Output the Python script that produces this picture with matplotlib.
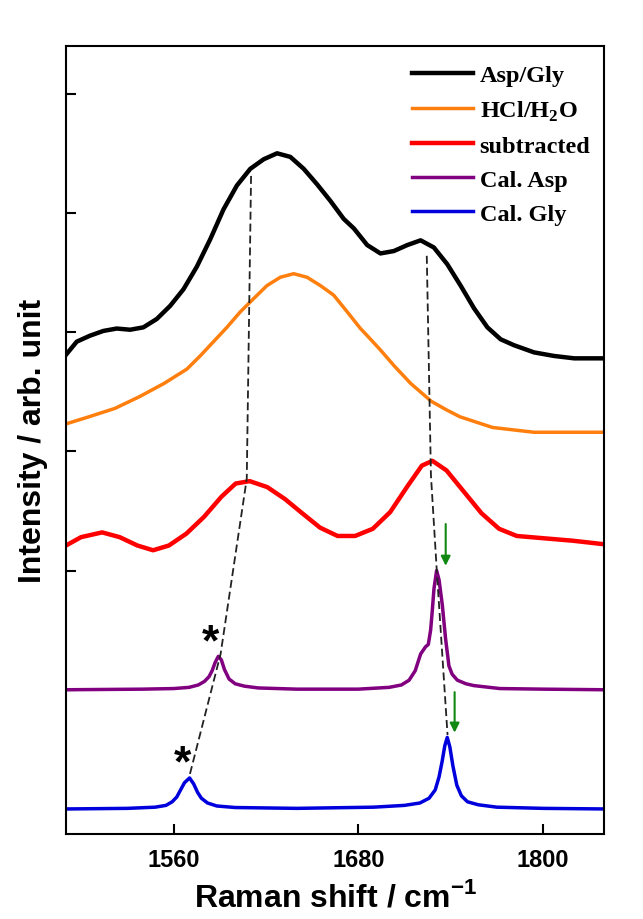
import matplotlib
matplotlib.use('Agg')
import matplotlib.pyplot as plt

# ─── DATA ────────────────────────────────────────────────────────────────────────
asp_gly_x = [1490, 1497, 1505.6, 1514.3, 1523, 1531.7, 1540.3, 1549, 1557.7, 1566.4,
             1575.1, 1583.8, 1592.4, 1601.1, 1609.8, 1618.5, 1627.2, 1635.8, 1644.5,
             1653.2, 1661.9, 1670.5, 1677.1, 1685.8, 1694.4, 1703.1, 1711.8, 1720.5,
             1729.1, 1737.8, 1746.5, 1755.2, 1763.9, 1772.5, 1781.2, 1794.2, 1807.2,
             1820.3, 1840]
asp_gly_y = [3.81, 3.92, 3.97, 4.01, 4.03, 4.02, 4.04, 4.11, 4.22, 4.36,
             4.55, 4.78, 5.03, 5.23, 5.37, 5.45, 5.50, 5.47, 5.37,
             5.24, 5.10, 4.95, 4.87, 4.73, 4.66, 4.68, 4.73, 4.77,
             4.71, 4.57, 4.39, 4.20, 4.04, 3.94, 3.89, 3.83, 3.80,
             3.78, 3.78]

hcl_x = [1490, 1505, 1521.8, 1538, 1553.8, 1568.6, 1577.2, 1585.9, 1594.6, 1603.3,
         1611.9, 1620.6, 1629.3, 1638, 1646.7, 1655.4, 1664, 1672.8, 1681.4, 1685.8,
         1694.4, 1703.1, 1714, 1727.4, 1737, 1746, 1767.3, 1794.1, 1840]
hcl_y = [3.23, 3.29, 3.36, 3.46, 3.57, 3.69, 3.80, 3.92, 4.04, 4.17,
         4.28, 4.39, 4.46, 4.49, 4.46, 4.39, 4.31, 4.17, 4.03, 3.97,
         3.85, 3.72, 3.57, 3.42, 3.35, 3.29, 3.20, 3.16, 3.16]

sub_x = [1490, 1499.8, 1513.5, 1524.9, 1536.4, 1546.6, 1556.9, 1568.3, 1579.7, 1591.1,
         1600.3, 1609.4, 1620.8, 1632.3, 1643.6, 1655.1, 1666.5, 1677.9, 1689.4, 1700.7,
         1712.1, 1721.3, 1728.2, 1737.3, 1748.7, 1760.1, 1771.5, 1783, 1801.2, 1819.5,
         1840]
sub_y = [2.21, 2.28, 2.32, 2.28, 2.21, 2.17, 2.21, 2.31, 2.45, 2.62,
         2.73, 2.75, 2.70, 2.60, 2.48, 2.36, 2.29, 2.29, 2.35, 2.49,
         2.71, 2.88, 2.92, 2.84, 2.66, 2.48, 2.35, 2.29, 2.27, 2.25,
         2.22]

asp_x = [1490, 1540, 1560, 1570, 1576, 1580, 1583, 1585, 1587, 1589, 1591, 1593, 1596,
         1600, 1606, 1615, 1640, 1680, 1700, 1708, 1713, 1717, 1720.5, 1723.7, 1725.5,
         1727, 1728, 1729.2, 1730.9, 1732.5, 1734.6, 1736.7, 1738.9, 1741, 1744.4, 1750,
         1755, 1772, 1800, 1840]
asp_y = [1.00, 1.005, 1.01, 1.02, 1.04, 1.07, 1.11, 1.16, 1.23, 1.28, 1.25, 1.17, 1.09,
         1.05, 1.03, 1.015, 1.005, 1.005, 1.02, 1.04, 1.08, 1.16, 1.30, 1.36, 1.38,
         1.50, 1.65, 1.85, 2.00, 1.92, 1.71, 1.43, 1.20, 1.13, 1.08, 1.05,
         1.035, 1.01, 1.005, 1.00]

gly_x = [1490, 1530, 1548, 1555, 1559, 1562, 1564.5, 1567, 1570.3, 1573, 1575.5, 1578,
         1582, 1588, 1600, 1640, 1690, 1710, 1720, 1726, 1730, 1732.5, 1734.5, 1736.2,
         1737.8, 1739.5, 1741.5, 1744, 1747, 1751, 1758, 1770, 1800, 1840]
gly_y = [0.00, 0.005, 0.015, 0.03, 0.06, 0.10, 0.16, 0.22, 0.26, 0.21, 0.14, 0.09,
         0.05, 0.025, 0.012, 0.005, 0.015, 0.03, 0.05, 0.09, 0.16, 0.27, 0.40, 0.53,
         0.60, 0.52, 0.36, 0.20, 0.11, 0.06, 0.035, 0.015, 0.005, 0.00]

# dashed guide lines linking the peaks
guide1_x = [1610.3, 1607.5, 1590.5, 1570.5]
guide1_y = [5.31, 2.77, 1.30, 0.29]
guide2_x = [1724.5, 1727.2, 1731, 1738]
guide2_y = [4.64, 2.80, 2.00, 0.62]

# green arrows (x, tail, tip) and stars (x, y)
arrow_x = [1736.8, 1742.6]
arrow_tail = [2.39, 0.98]
arrow_tip = [2.04, 0.64]
star_x = [1584.2, 1566]
star_y = [1.47, 0.46]

xticks = [1560, 1680, 1800]
yticks = [0, 1, 2, 3, 4, 5, 6]

# ─── STYLE ─────────────────────────────────────────────────────────────────────────
plt.rcParams['font.family'] = ['Liberation Sans', 'DejaVu Sans']
plt.rcParams['mathtext.fontset'] = 'custom'
plt.rcParams['mathtext.rm'] = 'Liberation Serif:bold'
plt.rcParams['mathtext.bf'] = 'Liberation Sans:bold'
plt.rcParams['lines.solid_joinstyle'] = 'round'

fig = plt.figure(figsize=(6.43, 9.2), dpi=100)
ax = fig.add_axes([0.1026, 0.0924, 0.8375, 0.8565])

ax.plot(asp_gly_x, asp_gly_y, color='black', lw=3.2, label='Asp/Gly')
ax.plot(hcl_x, hcl_y, color='#ff7f0e', lw=2.5, label=r'HCl/H$_{\mathrm{2}}$O')
ax.plot(sub_x, sub_y, color='#ff0000', lw=3.2, label='subtracted')
ax.plot(asp_x, asp_y, color='#800080', lw=2.5, label='Cal. Asp')
ax.plot(gly_x, gly_y, color='#0000dd', lw=2.5, label='Cal. Gly')

for gx, gy in [(guide1_x, guide1_y), (guide2_x, guide2_y)]:
    ax.plot(gx, gy, color='#222222', lw=1.3, dashes=(4.4, 2.2), zorder=5)

for x, t0, t1 in zip(arrow_x, arrow_tail, arrow_tip):
    ax.annotate('', xy=(x, t1), xytext=(x, t0),
                arrowprops=dict(arrowstyle='-|>', color='#118811', lw=1.5,
                                mutation_scale=14, shrinkA=0, shrinkB=0))

for x, y in zip(star_x, star_y):
    ax.text(x, y - 0.175, '*', fontsize=32, fontweight='bold', ha='center',
            va='baseline', color='black')

ax.set_xlim(1490, 1840)
ax.set_ylim(-0.21, 6.40)
ax.set_xticks(xticks)
ax.set_yticks(yticks)
ax.set_yticklabels([])
ax.tick_params(direction='in', length=7, width=1.5, labelsize=17, pad=10)
for lab in ax.get_xticklabels():
    lab.set_fontweight('bold')
for s in ax.spines.values():
    s.set_linewidth(1.5)

ax.set_xlabel(r'Raman shift / cm$^{\mathbf{-1}}$', fontsize=23, fontweight='bold', labelpad=7)
ax.set_ylabel('Intensity / arb. unit', fontsize=23, fontweight='bold', labelpad=3)

leg = ax.legend(loc='upper left', bbox_to_anchor=(0.642, 0.977), frameon=False,
                prop={'family': 'Liberation Serif', 'weight': 'bold', 'size': 17.5},
                handlelength=2.54, handletextpad=0.25, labelspacing=0.5,
                borderpad=0, borderaxespad=0)

fig.savefig('out.png', dpi=100)
